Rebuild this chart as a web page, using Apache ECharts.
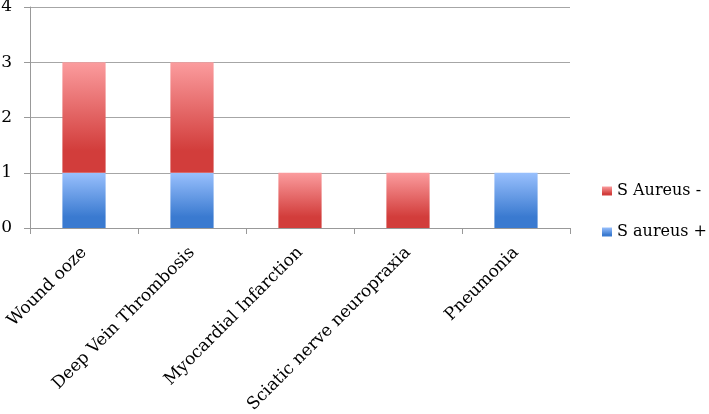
<!DOCTYPE html>
<html>
<head>
<meta charset="utf-8">
<script src="https://cdn.jsdelivr.net/npm/echarts@6/dist/echarts.min.js"></script>
<style>
  html, body { margin: 0; padding: 0; background: #fff; }
  #chart { width: 709px; height: 414px; }
</style>
</head>
<body>
<div id="chart"></div>
<script>
const categories = ["Wound ooze", "Deep Vein Thrombosis", "Myocardial Infarction", "Sciatic nerve neuropraxia", "Pneumonia"];
const aureusPos = [1, 1, 0, 0, 1];
const aureusNeg = [2, 2, 1, 1, 0];
const yTicks = [0, 1, 2, 3, 4];

const font = "DejaVu Serif";

function grad(top, bottom) {
  return new echarts.graphic.LinearGradient(0, 0, 0, 1, [
    { offset: 0, color: top },
    { offset: 0.8, color: bottom },
    { offset: 1, color: bottom }
  ]);
}

const chart = echarts.init(document.getElementById("chart"));
const option = {
  animation: false,
  textStyle: { fontFamily: font },
  grid: { left: 30, right: 139, top: 7, bottom: 186, containLabel: false, outerBoundsMode: "none" },
  legend: {
    orient: "vertical",
    left: 602,
    top: 183,
    padding: 0,
    itemWidth: 10,
    itemHeight: 9,
    itemGap: 25,
    icon: "rect",
    data: ["S Aureus -", "S aureus +"],
    textStyle: { fontFamily: font, fontSize: 16, color: "#000" }
  },
  xAxis: {
    type: "category",
    data: categories,
    axisLine: { lineStyle: { color: "#999", width: 1 } },
    axisTick: { show: true, length: 6, lineStyle: { color: "#999" } },
    axisLabel: { rotate: 45, margin: 22, fontFamily: font, fontSize: 17, color: "#000", interval: 0 }
  },
  yAxis: {
    type: "value",
    min: yTicks[0],
    max: yTicks[yTicks.length - 1],
    interval: 1,
    axisLine: { show: true, lineStyle: { color: "#999", width: 1 } },
    axisTick: { show: true, length: 6, lineStyle: { color: "#999" } },
    splitLine: { lineStyle: { color: "#a6a6a6", width: 1 } },
    axisLabel: { margin: 18, fontFamily: font, fontSize: 17, color: "#000" }
  },
  series: [
    {
      name: "S aureus +",
      type: "bar",
      stack: "total",
      barWidth: "40%",
      data: aureusPos,
      itemStyle: { color: grad("#99c0fd", "#3a7ad0") }
    },
    {
      name: "S Aureus -",
      type: "bar",
      stack: "total",
      barWidth: "40%",
      data: aureusNeg,
      itemStyle: { color: grad("#fb9c9e", "#d23d3b") }
    }
  ]
};
chart.setOption(option);
</script>
</body>
</html>
